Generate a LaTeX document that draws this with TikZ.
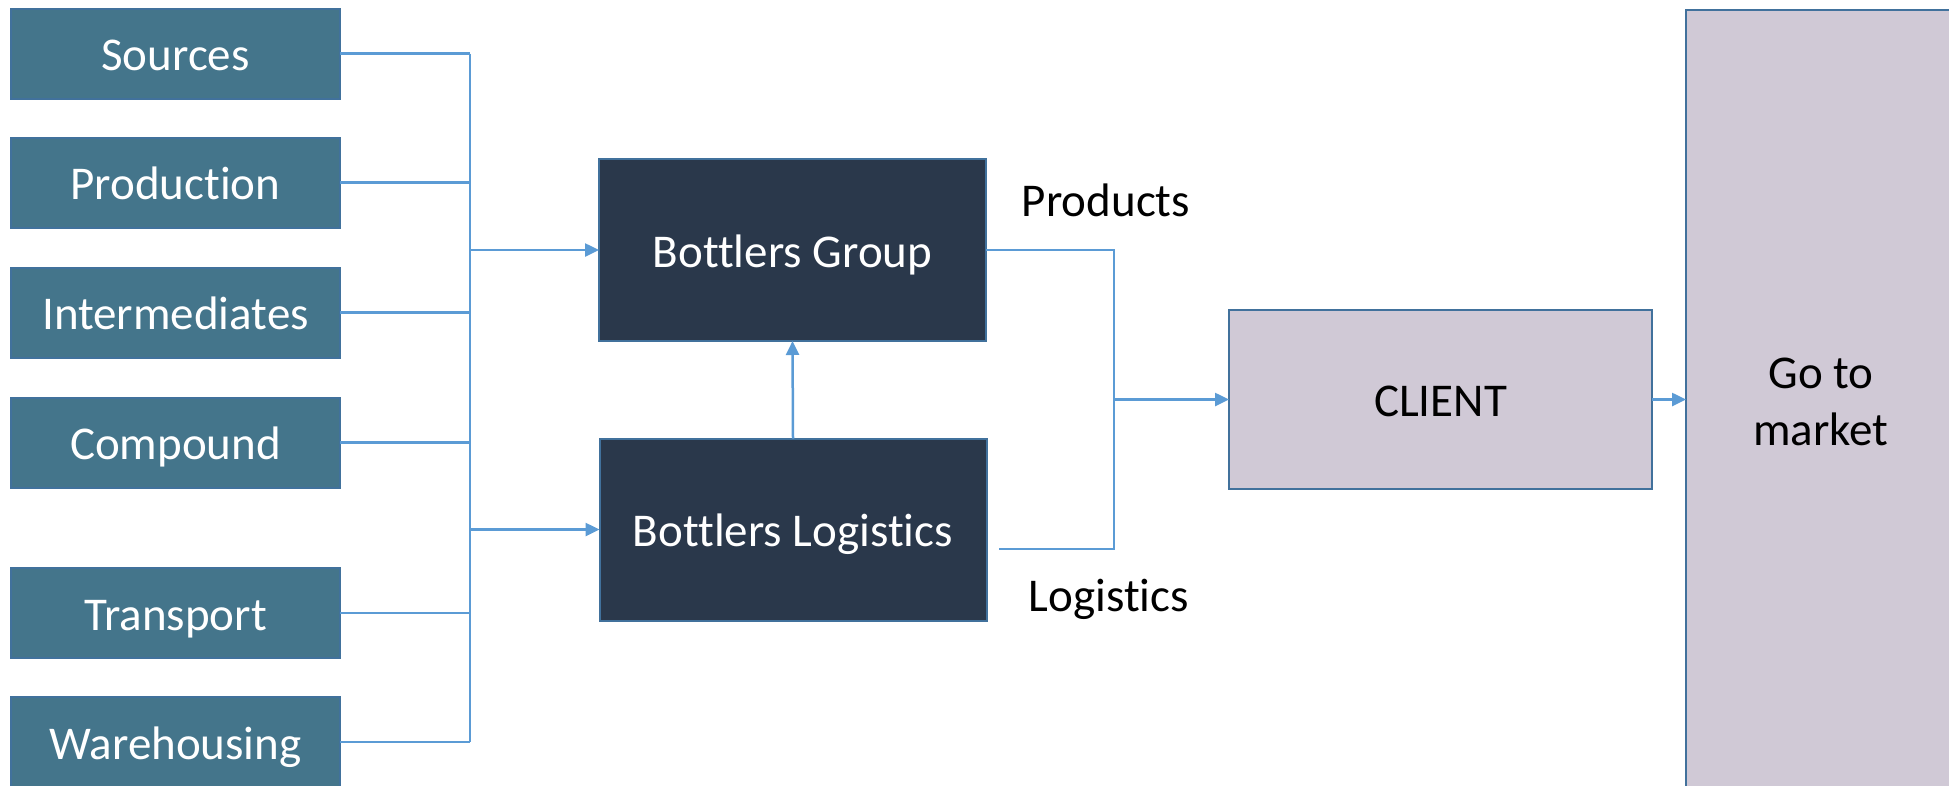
\documentclass[tikz,border=0pt]{standalone}
\usepackage{fontspec}
\setmainfont{Carlito}[Ligatures=NoCommon,RawFeature={-liga;-clig;-dlig}]
\usetikzlibrary{arrows.meta}
\definecolor{srcfill}{HTML}{44758B}
\definecolor{darkfill}{HTML}{2A384B}
\definecolor{lightfill}{HTML}{D0C9D6}
\definecolor{linkblue}{HTML}{5B9BD5}
\definecolor{edgeblue}{HTML}{41719C}
\begin{document}
\begin{tikzpicture}[x=1pt,y=-1pt,
  box/.style={draw=edgeblue, line width=2pt, inner sep=0pt, outer sep=0pt, align=center, font=\fontsize{47}{57}\selectfont},
  oneline/.style={text height=34pt, text depth=0pt},
  srcbox/.style={box, oneline, fill=srcfill, text=white, minimum width=329pt, minimum height=90pt},
  darkbox/.style={box, oneline, fill=darkfill, text=white, minimum width=387pt, minimum height=182pt},
  lightbox/.style={box, fill=lightfill, text=black},
  link/.style={draw=linkblue, line width=2.5pt},
  arr/.style={link, -{Triangle[length=14pt,width=13pt]}},
  lbl/.style={font=\fontsize{47}{57}\selectfont, text=black, inner sep=0pt}]
\useasboundingbox (0,0) rectangle (1949,785);
\clip (0,0) rectangle (1949,785);
% source boxes
\node[srcbox] (s1) at (175.5,53.5) {Sources};
\node[srcbox] (s2) at (175.5,182.5) {Production};
\node[srcbox] (s3) at (175.5,312.5) {Intermediates};
\node[srcbox] (s4) at (175.5,442.5) {Compound};
\node[srcbox] (s5) at (175.5,613) {Transport};
\node[srcbox] (s6) at (175.5,742) {Warehousing};
% bottlers
\node[darkbox] (bg) at (792.5,250) {Bottlers Group};
\node[darkbox] (bl) at (793,529.5) {Bottlers Logistics};
% client and market
\node[lightbox, oneline, minimum width=423pt, minimum height=179pt] (cl) at (1440.5,399.5) {CLIENT};
\node[lightbox, minimum width=270pt, minimum height=784pt] (gm) at (1821,402) {Go to\\market};
% labels
\node[lbl] (lp) at (1106,200) {Products};
\node[lbl] (ll) at (1109,599) {Logistics};
% bus
\coordinate (bus) at (470,0);
\foreach \n in {s1,s2,s3,s4,s5,s6}{
  \draw[link] (\n.east) -- (\n.east -| bus);
}
\draw[link] (s1.east -| bus) -- (s6.east -| bus);
\draw[arr] (bg.west -| bus) -- (bg.west);
\draw[arr] (bl.west -| bus) -- (bl.west);
\draw[arr] (bl.north) -- (bg.south);
% merge to client
\coordinate (mx) at (1114,0);
\coordinate (lstart) at (999,549);
\draw[link] (bg.east) -- (bg.east -| mx) -- (lstart -| mx) -- (lstart);
\draw[arr] (cl.west -| mx) -- (cl.west);
\draw[arr] (cl.east) -- (cl.east -| gm.west);
\end{tikzpicture}
\end{document}
